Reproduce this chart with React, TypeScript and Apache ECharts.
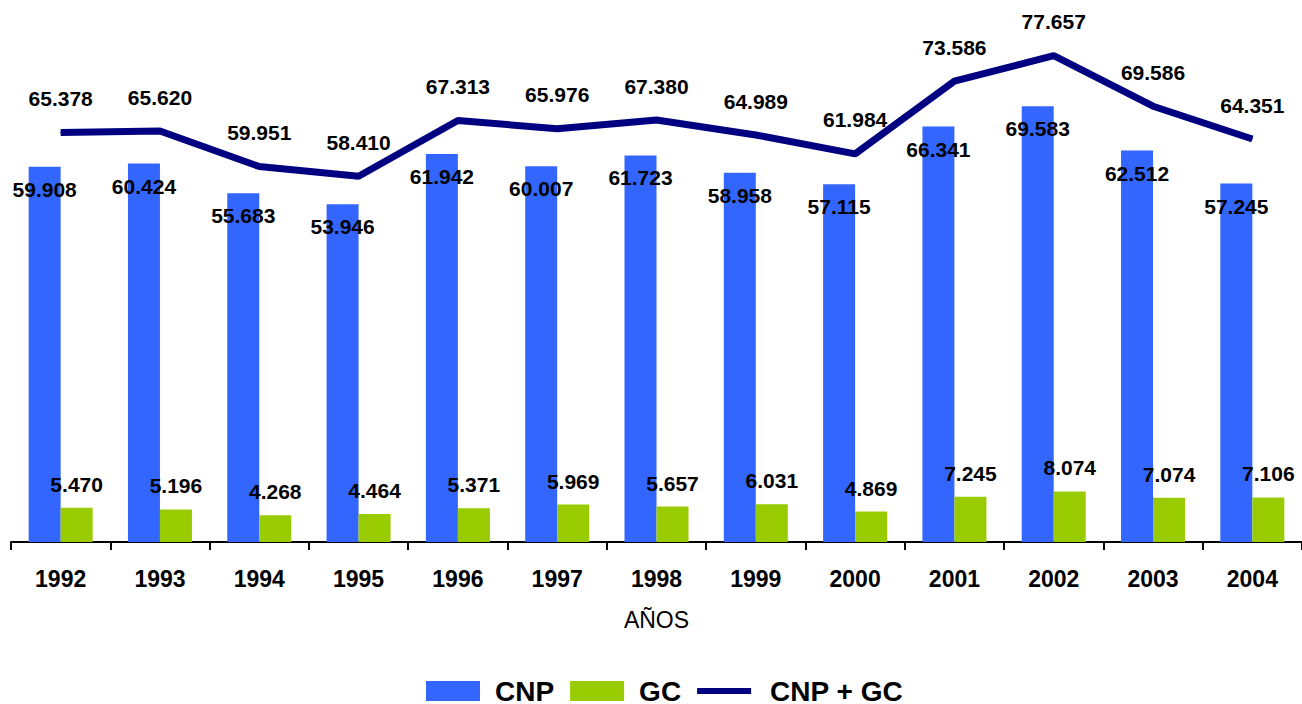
import React, { useEffect, useRef } from "react";
import * as echarts from "echarts";

const years = ["1992", "1993", "1994", "1995", "1996", "1997", "1998", "1999", "2000", "2001", "2002", "2003", "2004"];
const cnp = [59.908, 60.424, 55.683, 53.946, 61.942, 60.007, 61.723, 58.958, 57.115, 66.341, 69.583, 62.512, 57.245];
const gc = [5.47, 5.196, 4.268, 4.464, 5.371, 5.969, 5.657, 6.031, 4.869, 7.245, 8.074, 7.074, 7.106];
const total = [65.378, 65.62, 59.951, 58.41, 67.313, 65.976, 67.38, 64.989, 61.984, 73.586, 77.657, 69.586, 64.351];

const FONT = "'Liberation Sans', Arial, sans-serif";
const fmt = (v: number) => v.toFixed(3);

export default function App() {
  const ref = useRef<HTMLDivElement>(null);
  useEffect(() => {
    if (!ref.current) return;
    const chart = echarts.init(ref.current, null, { renderer: "svg" });
    const labelStyle = {
      show: true,
      fontFamily: FONT,
      fontWeight: "bold" as const,
      fontSize: 21,
      color: "#000",
      formatter: (p: any) => fmt(p.value),
    };
    const legendText = { fontFamily: FONT, fontWeight: "bold", fontSize: 28, lineHeight: 24, color: "#000" };
    chart.setOption({
      animation: false,
      backgroundColor: "#fff",
      grid: { left: 11, top: 41, width: 1297, height: 501, containLabel: false },
      legend: {
        left: 426,
        top: 677,
        padding: 0,
        itemWidth: 54,
        itemHeight: 20,
        itemGap: 16,
        textStyle: { ...legendText, padding: [0, 0, 0, 10] },
        data: [
          { name: "CNP", icon: "rect" },
          { name: "GC", icon: "rect", textStyle: { ...legendText, padding: [0, 0, 0, 10] } },
          {
            name: "CNP + GC",
            icon: "path://M0,0 L61,0 L61,7 L0,7 Z",
            itemStyle: { color: "#000080" },
            textStyle: { ...legendText, padding: [0, 0, 0, 14] },
          },
        ],
      },
      xAxis: {
        type: "category",
        data: years,
        boundaryGap: true,
        name: "AÑOS",
        nameLocation: "middle",
        nameGap: 66,
        nameTextStyle: { fontFamily: FONT, fontSize: 23, color: "#000" },
        axisLine: { lineStyle: { color: "#000", width: 2 } },
        axisTick: { show: true, length: 8, lineStyle: { color: "#000", width: 2 } },
        axisLabel: { fontFamily: FONT, fontWeight: "bold", fontSize: 23, color: "#000", margin: 25 },
      },
      yAxis: {
        type: "value",
        min: 0,
        max: 80,
        show: false,
        splitLine: { show: false },
      },
      series: [
        {
          name: "CNP",
          type: "bar",
          data: cnp,
          barWidth: 32,
          barGap: "0%",
          itemStyle: { color: "#3366FF" },
          label: { ...labelStyle, position: "insideTop", distance: 12 },
        },
        {
          name: "GC",
          type: "bar",
          data: gc,
          barWidth: 32,
          barGap: "0%",
          itemStyle: { color: "#99CC00" },
          label: { ...labelStyle, position: "top", distance: 13 },
        },
        {
          name: "CNP + GC",
          type: "line",
          data: total,
          symbol: "circle",
          symbolSize: 1,
          showSymbol: true,
          lineStyle: { color: "#000080", width: 7 },
          itemStyle: { color: "#000080" },
          label: { ...labelStyle, position: "top", distance: 23 },
          z: 5,
        },
      ],
    });
    return () => chart.dispose();
  }, []);
  return (
    <div
      ref={ref}
      style={{ position: "fixed", left: 0, top: 0, width: 1302, height: 704, background: "#fff" }}
    />
  );
}
